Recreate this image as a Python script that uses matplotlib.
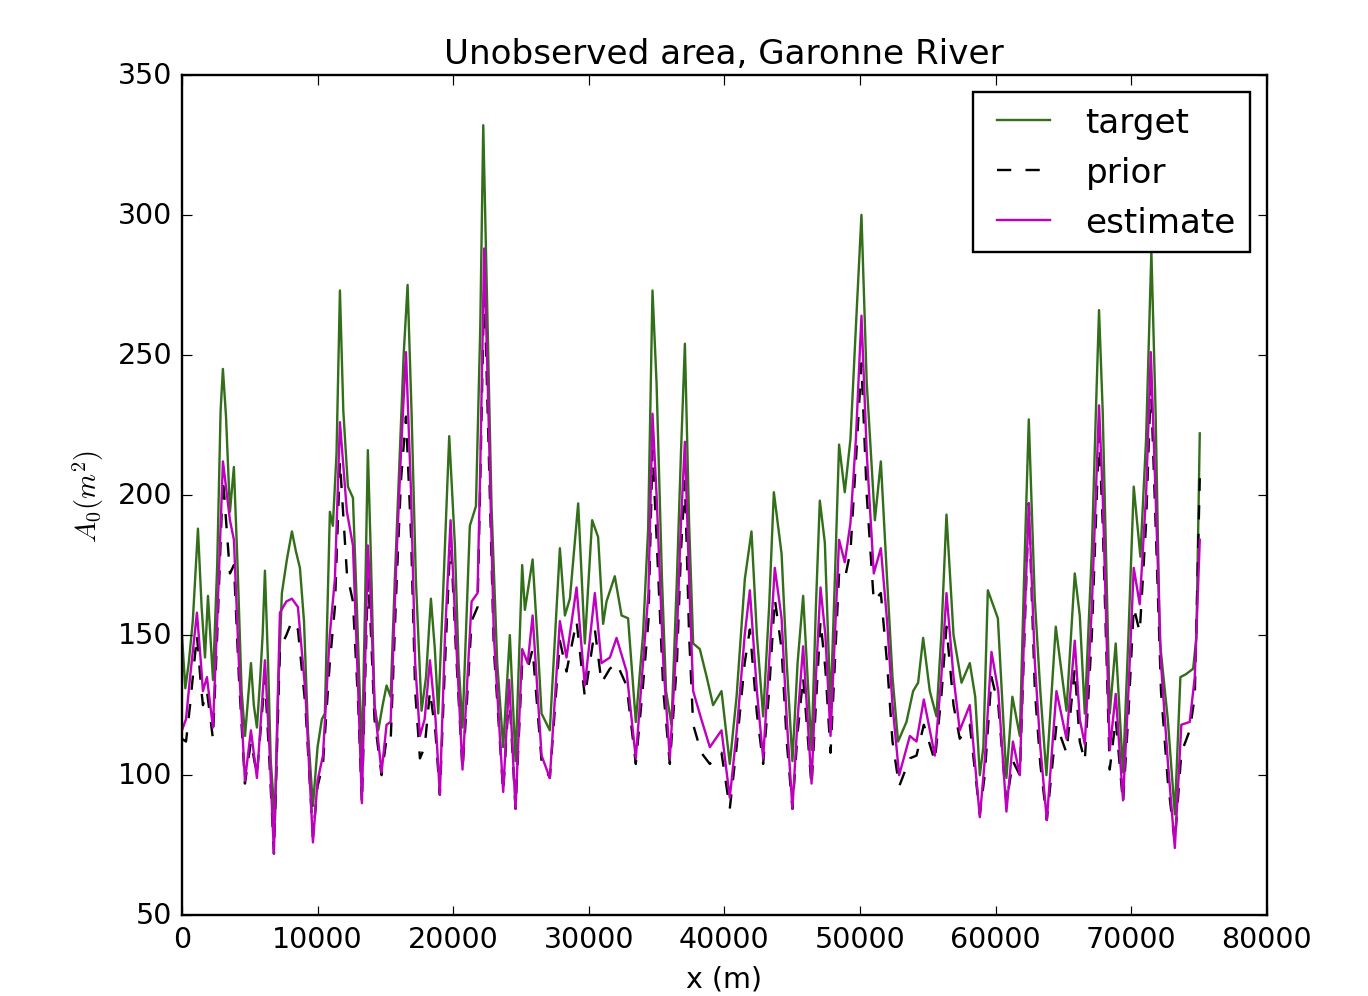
import numpy as np
import matplotlib
matplotlib.use("Agg")
import matplotlib.pyplot as plt

# distance along the reach (m) and cross section area A0 (m^2)
x_target = [0, 250, 500, 800, 1180, 1450, 1700, 1920, 2290, 2600, 2850, 3020, 3250, 3540, 3830, 4100,
            4400, 4650, 5090, 5300, 5530, 5750, 5950, 6120, 6350, 6550, 6860, 7100, 7370, 7740, 8110,
            8400, 8700, 9000, 9300, 9660, 10000, 10320, 10540, 10910, 11130, 11400, 11650, 11900, 12240,
            12610, 12900, 13270, 13500, 13710, 13950, 14200, 14480, 14800, 15090, 15390, 15700, 16070,
            16350, 16640, 16930, 17250, 17670, 18000, 18360, 18650, 18900, 19300, 19710, 20130, 20400,
            20690, 21230, 21680, 22000, 22220, 22500, 22830, 23250, 23690, 24180, 24600, 25090, 25290,
            25860, 26200, 26520, 27130, 27870, 28240, 28610, 29220, 29710, 30250, 30690, 31060, 31310,
            31920, 32420, 32900, 33470, 34000, 34380, 34700, 35000, 35400, 35700, 36100, 36500, 36800,
            37090, 37400, 37700, 38190, 38700, 39170, 39790, 40400, 40900, 41510, 42000, 42400, 42860,
            43300, 43650, 44220, 44600, 45020, 45400, 45810, 46430, 46750, 47040, 47410, 47830, 48150,
            48460, 48880, 49300, 49700, 50110, 50500, 51100, 51540, 52000, 52400, 52810, 53430, 53920,
            54290, 54660, 55150, 55640, 56000, 56380, 56900, 57490, 58100, 58500, 58840, 59100, 59430,
            60170, 60800, 61240, 61790, 62100, 62450, 62890, 63300, 63750, 64440, 65230, 65840, 66210,
            66580, 67100, 67400, 67630, 67900, 68420, 68860, 69400, 69800, 70190, 70680, 71100, 71490,
            71800, 72110, 72700, 73220, 73630, 74030, 74570, 74810, 75060]
target = [150, 131, 140, 155, 188, 160, 142, 164, 134, 175, 230, 245, 228, 194, 210, 175,
          130, 114, 140, 125, 117, 133, 150, 173, 140, 105, 84, 130, 165, 177, 187,
          180, 174, 155, 115, 89, 110, 120, 122, 194, 189, 215, 273, 230, 203,
          199, 160, 106, 160, 216, 175, 125, 116, 125, 132, 128, 170, 215,
          250, 275, 230, 170, 123, 135, 163, 145, 122, 170, 221, 182, 140,
          117, 189, 196, 260, 332, 270, 196, 140, 110, 150, 105, 175, 159,
          177, 150, 122, 116, 181, 157, 163, 197, 147, 191, 185, 154, 162,
          171, 157, 156, 119, 150, 188, 273, 240, 170, 130, 118, 170, 215,
          254, 190, 147, 145, 135, 125, 130, 104, 128, 170, 187, 150, 121,
          160, 201, 179, 140, 105, 140, 164, 109, 160, 198, 183, 124, 170,
          218, 201, 220, 260, 300, 240, 191, 212, 170, 135, 112, 119, 130,
          133, 149, 130, 121, 150, 193, 150, 133, 140, 128, 100, 110, 166,
          156, 99, 128, 114, 170, 227, 163, 130, 100, 153, 123, 172, 157,
          122, 180, 230, 266, 230, 122, 147, 101, 150, 203, 178, 220, 287,
          230, 148, 120, 86, 135, 136, 138, 149, 222]

x_est = [0, 300, 600, 1106, 1400, 1548, 1843, 2286, 2600, 3023, 3540, 3834, 4200, 4645, 5087, 5530,
         6120, 6450, 6783, 7225, 7700, 8110, 8553, 9100, 9660, 10000, 10400, 10900, 11280, 11650,
         12165, 12610, 13000, 13270, 13710, 13900, 14200, 14720, 15090, 15390, 15800, 16150, 16520,
         16900, 17200, 17550, 17900, 18290, 18700, 19020, 19400, 19810, 20200, 20690, 21000, 21360,
         21800, 22000, 22290, 22600, 23000, 23690, 24130, 24600, 25090, 25500, 25860, 26520, 27130,
         27870, 28360, 29100, 29710, 30450, 30940, 31560, 32050, 32790, 33470, 34000, 34400, 34700,
         35000, 35500, 35980, 36500, 36800, 37090, 37400, 37700, 38300, 38930, 39790, 40400, 40900,
         41500, 41880, 42400, 42860, 43300, 43720, 44220, 44600, 45020, 45400, 45810, 46430, 46750,
         47090, 47450, 47830, 48150, 48460, 48880, 49300, 49700, 50110, 50500, 51020, 51540, 52000,
         52400, 52890, 53680, 54170, 54710, 55520, 56000, 56380, 56900, 57360, 58100, 58840, 59200,
         59700, 60200, 60800, 61280, 61790, 62100, 62450, 62900, 63300, 63780, 64490, 65230, 65840,
         66210, 66580, 67100, 67630, 67900, 68420, 68860, 69400, 69800, 70190, 70630, 71100, 71450,
         71800, 72200, 72700, 73220, 73700, 74320, 74690, 75060]
estimate = [116, 120, 135, 158, 140, 130, 135, 117, 155, 212, 191, 184, 140, 98, 116, 99,
            141, 110, 72, 158, 162, 163, 160, 130, 76, 98, 107, 150, 170, 226,
            194, 182, 130, 90, 182, 165, 125, 101, 118, 119, 175, 215, 251,
            200, 140, 114, 120, 141, 120, 93, 150, 191, 150, 102, 130, 162,
            165, 210, 288, 230, 150, 94, 134, 88, 145, 140, 157, 107, 99,
            155, 142, 167, 132, 165, 140, 142, 149, 137, 106, 140, 165, 229,
            200, 140, 106, 150, 190, 219, 170, 130, 120, 110, 116, 92, 115,
            150, 166, 130, 106, 140, 174, 156, 120, 88, 120, 146, 97, 135,
            167, 150, 114, 150, 184, 176, 190, 220, 264, 215, 172, 181, 155,
            125, 100, 114, 112, 127, 107, 135, 165, 135, 116, 125, 85, 105,
            144, 130, 87, 112, 100, 150, 197, 140, 110, 84, 130, 113, 148,
            120, 111, 160, 232, 200, 109, 129, 91, 130, 174, 161, 200, 251,
            200, 140, 105, 74, 118, 119, 135, 184]
prior = [113, 112, 125, 150, 132, 125, 130, 113, 150, 206, 172, 175, 135, 97, 112, 100,
         135, 105, 72, 145, 150, 155, 152, 125, 78, 96, 104, 140, 160, 212,
         172, 162, 125, 90, 170, 155, 120, 100, 113, 112, 165, 205, 228,
         185, 130, 106, 110, 130, 115, 93, 140, 186, 145, 102, 125, 155,
         160, 205, 276, 220, 145, 94, 130, 88, 140, 138, 145, 105, 99,
         148, 137, 155, 128, 152, 133, 138, 140, 132, 104, 132, 155, 216,
         185, 130, 104, 140, 180, 205, 150, 118, 108, 104, 108, 88, 110,
         140, 152, 122, 104, 130, 163, 145, 112, 88, 115, 135, 96, 125,
         155, 138, 108, 140, 172, 170, 180, 212, 247, 200, 162, 165, 140,
         112, 96, 106, 107, 118, 105, 128, 153, 125, 113, 118, 86, 100,
         135, 125, 90, 105, 100, 145, 197, 130, 104, 84, 118, 108, 138,
         112, 105, 150, 222, 190, 102, 120, 90, 122, 160, 151, 190, 240,
         190, 130, 98, 76, 108, 116, 128, 206]

plt.style.use('classic')
plt.rcParams['savefig.facecolor'] = 'white'
plt.rcParams['figure.facecolor'] = 'white'

DPI = 171
fig = plt.figure(figsize=(1368 / DPI, 997 / DPI), dpi=DPI)
ax = fig.add_subplot(111)
fig.subplots_adjust(left=0.133, right=0.926, bottom=0.081, top=0.924)

ax.plot(x_target, target, color='#336e1a', label='target')
ax.plot(x_est, prior, color='k', linestyle='--', dashes=(6, 6), label='prior')
ax.plot(x_est, estimate, color='m', label='estimate')

ax.set_xlim(0, 80000)
ax.set_ylim(50, 350)
ax.set_title('Unobserved area, Garonne River')
ax.set_xlabel('x (m)')
ax.set_ylabel(r'$A_0(m^2)$')

ax.legend(loc='upper right', handlelength=2.15, handletextpad=0.75, fancybox=False)

fig.savefig('out.png', dpi=DPI, facecolor='white')
